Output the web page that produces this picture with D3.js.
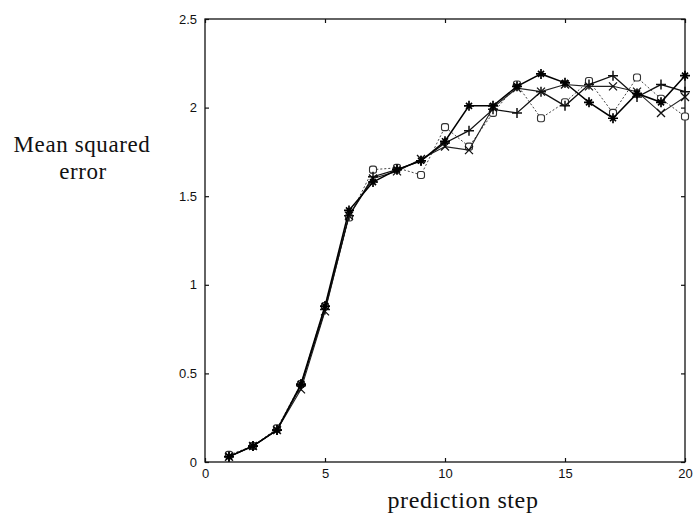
<!DOCTYPE html>
<html><head><meta charset="utf-8">
<script src="https://cdn.jsdelivr.net/npm/d3@7"></script>
<style>body{margin:0;background:#fff}svg{display:block}</style>
</head><body>
<svg id="c" width="694" height="524"></svg>
<script>
const steps = d3.range(1, 21);
const seriesStar   = [0.03,0.09,0.18,0.44,0.88,1.42,1.58,1.65,1.70,1.81,2.01,2.01,2.12,2.19,2.14,2.03,1.94,2.08,2.03,2.18];
const seriesCircle = [0.04,0.09,0.19,0.44,0.88,1.38,1.65,1.66,1.62,1.89,1.78,1.97,2.13,1.94,2.03,2.15,1.97,2.17,2.05,1.95];
const seriesPlus   = [0.03,0.09,0.18,0.43,0.86,1.39,1.61,1.65,1.70,1.80,1.87,1.99,1.97,2.09,2.01,2.13,2.18,2.06,2.13,2.09];
const seriesCross  = [0.03,0.09,0.18,0.41,0.85,1.39,1.60,1.64,1.71,1.78,1.76,2.00,2.11,2.09,2.13,2.12,2.12,2.09,1.97,2.06];
const xTicks = [0,5,10,15,20];
const yTicks = [0,0.5,1,1.5,2,2.5];
const yTickLabels = ["0","0.5","1","1.5","2","2.5"];

const svg = d3.select("#c");
const L = 205, R = 685, T = 19, B = 462;
const x = d3.scaleLinear().domain([0,20]).range([L,R]);
const y = d3.scaleLinear().domain([0,2.5]).range([B,T]);
const tickFont = "'Liberation Sans', Arial, sans-serif";

// frame
svg.append("rect").attr("x",L).attr("y",T).attr("width",R-L).attr("height",B-T)
  .attr("fill","none").attr("stroke","#111").attr("stroke-width",1.3);

// axes with inward ticks
const ax = (g, axis) => { g.call(axis); g.select(".domain").remove();
  g.selectAll("line").attr("stroke","#111").attr("stroke-width",1.2);
  g.selectAll("text").attr("font-family",tickFont).attr("font-size",13).attr("fill","#111"); };
svg.append("g").attr("transform",`translate(0,${B})`)
  .call(g => ax(g, d3.axisBottom(x).tickValues(xTicks).tickSizeInner(-4).tickSizeOuter(0).tickPadding(7)));
svg.append("g").attr("transform",`translate(0,${T})`)
  .call(g => ax(g, d3.axisTop(x).tickValues(xTicks).tickSizeInner(-4).tickSizeOuter(0).tickFormat("")));
svg.append("g").attr("transform",`translate(${L},0)`)
  .call(g => ax(g, d3.axisLeft(y).tickValues(yTicks).tickSizeInner(-4).tickSizeOuter(0).tickPadding(8)
    .tickFormat((d,i)=>yTickLabels[i])));
svg.append("g").attr("transform",`translate(${R},0)`)
  .call(g => ax(g, d3.axisRight(y).tickValues(yTicks).tickSizeInner(-4).tickSizeOuter(0).tickFormat("")));

// series
const line = d3.line().x((d,i)=>x(steps[i])).y(d=>y(d));
const series = [
  {v: seriesCircle, m: "o", dash: "2,2", w: 1.0, c:"#444"},
  {v: seriesCross,  m: "x", dash: null, w: 1.1, c:"#222"},
  {v: seriesPlus,   m: "+", dash: null, w: 1.3, c:"#111"},
  {v: seriesStar,   m: "*", dash: null, w: 1.5, c:"#000"}
];
const s = 4;
series.forEach(ser => {
  svg.append("path").datum(ser.v).attr("d", line).attr("fill","none")
    .attr("stroke", ser.c).attr("stroke-width", ser.w).attr("stroke-dasharray", ser.dash);
  const g = svg.append("g").attr("stroke","#111").attr("fill","none").attr("stroke-width",1.3);
  ser.v.forEach((d,i) => {
    const cx = x(steps[i]), cy = y(d);
    if (ser.m === "o") {
      g.append("rect").attr("x",cx-3.5).attr("y",cy-3.5).attr("width",7).attr("height",7)
        .attr("rx",2.2).attr("fill","#fff").attr("stroke","#333").attr("stroke-width",1.1);
    } else if (ser.m === "x") {
      g.append("path").attr("d",`M${cx-s},${cy-s}L${cx+s},${cy+s}M${cx-s},${cy+s}L${cx+s},${cy-s}`);
    } else if (ser.m === "+") {
      g.append("path").attr("d",`M${cx-s-1},${cy}L${cx+s+1},${cy}M${cx},${cy-s-1}L${cx},${cy+s+1}`).attr("stroke-width",1.5);
    } else {
      const a = s*0.75;
      g.append("path").attr("d",`M${cx-s-1},${cy}L${cx+s+1},${cy}M${cx},${cy-s-1}L${cx},${cy+s+1}M${cx-a},${cy-a}L${cx+a},${cy+a}M${cx-a},${cy+a}L${cx+a},${cy-a}`)
        .attr("stroke","#000").attr("stroke-width",1.7);
    }
  });
});

// axis labels
const serif = "'Liberation Serif', 'Times New Roman', serif";
svg.append("text").attr("x",463).attr("y",508).attr("text-anchor","middle")
  .attr("font-family",serif).attr("font-size",24).attr("letter-spacing",0.6).attr("fill","#111").text("prediction step");
svg.append("text").attr("x",82).attr("y",152).attr("text-anchor","middle")
  .attr("font-family",serif).attr("font-size",23).attr("letter-spacing",0.6).attr("fill","#111").text("Mean squared");
svg.append("text").attr("x",83).attr("y",179).attr("text-anchor","middle")
  .attr("font-family",serif).attr("font-size",23).attr("letter-spacing",0.6).attr("fill","#111").text("error");
</script>
</body></html>
